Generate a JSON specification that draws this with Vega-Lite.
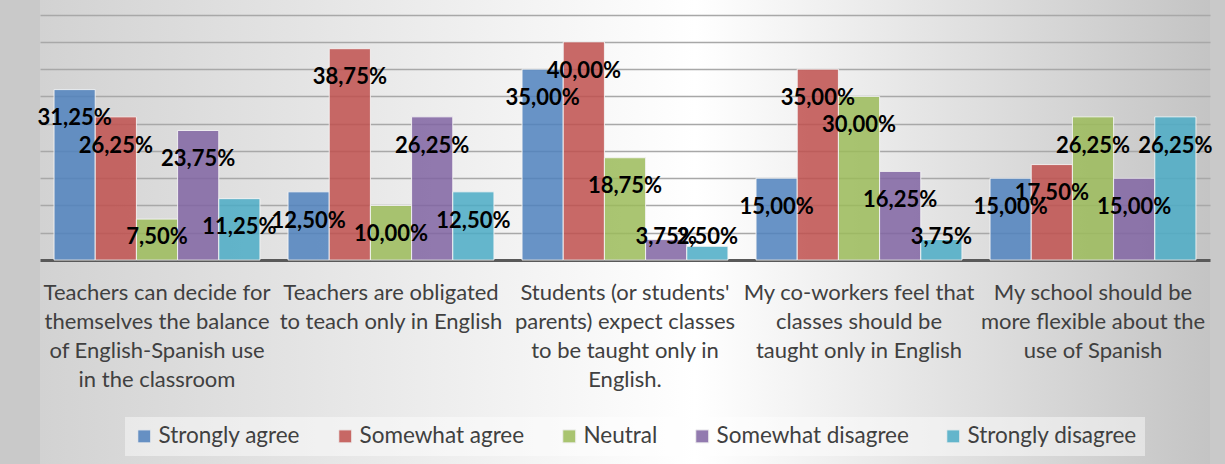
{
  "$schema": "https://vega.github.io/schema/vega-lite/v6.json",
  "width": 1170,
  "height": 464,
  "autosize": {"type": "none"},
  "padding": {"left": 40, "right": 15, "top": 0, "bottom": 0},
  "background": "#c9c9c9",
  "config": {
    "locale": {"number": {"decimal": ",", "thousands": ".", "grouping": [3], "currency": ["", " €"]}},
    "view": {
      "stroke": null,
      "fill": {
        "gradient": "linear", "x1": 0, "y1": 0, "x2": 1, "y2": 0,
        "stops": [
          {"offset": 0, "color": "#d2d2d2"},
          {"offset": 0.56, "color": "#ffffff"},
          {"offset": 1, "color": "#c4c4c4"}
        ]
      }
    },
    "font": "Lato"
  },
  "data": {
    "values": [
      {"statement": "Teachers can decide for\nthemselves the balance\nof English-Spanish use\nin the classroom", "response": "Strongly agree", "value": 0.3125},
      {"statement": "Teachers can decide for\nthemselves the balance\nof English-Spanish use\nin the classroom", "response": "Somewhat agree", "value": 0.2625},
      {"statement": "Teachers can decide for\nthemselves the balance\nof English-Spanish use\nin the classroom", "response": "Neutral", "value": 0.075},
      {"statement": "Teachers can decide for\nthemselves the balance\nof English-Spanish use\nin the classroom", "response": "Somewhat disagree", "value": 0.2375},
      {"statement": "Teachers can decide for\nthemselves the balance\nof English-Spanish use\nin the classroom", "response": "Strongly disagree", "value": 0.1125},
      {"statement": "Teachers are obligated\nto teach only in English", "response": "Strongly agree", "value": 0.125},
      {"statement": "Teachers are obligated\nto teach only in English", "response": "Somewhat agree", "value": 0.3875},
      {"statement": "Teachers are obligated\nto teach only in English", "response": "Neutral", "value": 0.10},
      {"statement": "Teachers are obligated\nto teach only in English", "response": "Somewhat disagree", "value": 0.2625},
      {"statement": "Teachers are obligated\nto teach only in English", "response": "Strongly disagree", "value": 0.125},
      {"statement": "Students (or students'\nparents) expect classes\nto be taught only in\nEnglish.", "response": "Strongly agree", "value": 0.35},
      {"statement": "Students (or students'\nparents) expect classes\nto be taught only in\nEnglish.", "response": "Somewhat agree", "value": 0.40},
      {"statement": "Students (or students'\nparents) expect classes\nto be taught only in\nEnglish.", "response": "Neutral", "value": 0.1875},
      {"statement": "Students (or students'\nparents) expect classes\nto be taught only in\nEnglish.", "response": "Somewhat disagree", "value": 0.0375},
      {"statement": "Students (or students'\nparents) expect classes\nto be taught only in\nEnglish.", "response": "Strongly disagree", "value": 0.025},
      {"statement": "My co-workers feel that\nclasses should be\ntaught only in English", "response": "Strongly agree", "value": 0.15},
      {"statement": "My co-workers feel that\nclasses should be\ntaught only in English", "response": "Somewhat agree", "value": 0.35},
      {"statement": "My co-workers feel that\nclasses should be\ntaught only in English", "response": "Neutral", "value": 0.30},
      {"statement": "My co-workers feel that\nclasses should be\ntaught only in English", "response": "Somewhat disagree", "value": 0.1625},
      {"statement": "My co-workers feel that\nclasses should be\ntaught only in English", "response": "Strongly disagree", "value": 0.0375},
      {"statement": "My school should be\nmore flexible about the\nuse of Spanish", "response": "Strongly agree", "value": 0.15},
      {"statement": "My school should be\nmore flexible about the\nuse of Spanish", "response": "Somewhat agree", "value": 0.175},
      {"statement": "My school should be\nmore flexible about the\nuse of Spanish", "response": "Neutral", "value": 0.2625},
      {"statement": "My school should be\nmore flexible about the\nuse of Spanish", "response": "Somewhat disagree", "value": 0.15},
      {"statement": "My school should be\nmore flexible about the\nuse of Spanish", "response": "Strongly disagree", "value": 0.2625}
    ]
  },
  "encoding": {
    "x": {
      "field": "statement", "type": "nominal", "sort": null,
      "scale": {"paddingInner": 0.12, "paddingOuter": 0.06},
      "axis": {
        "title": null, "orient": "bottom", "offset": -204,
        "labelAngle": 0, "labelExpr": "split(datum.label, '\\n')",
        "labelFont": "Lato", "labelFontSize": 22, "labelColor": "#404040",
        "labelLineHeight": 29.3, "labelBaseline": "top", "labelPadding": 22,
        "labelLimit": 400, "labelOverlap": false, "labelBound": false,
        "ticks": false, "tickSize": 0,
        "domain": true, "domainColor": "#595959", "domainWidth": 3,
        "grid": false
      }
    },
    "xOffset": {
      "field": "response", "type": "nominal",
      "sort": ["Strongly agree", "Somewhat agree", "Neutral", "Somewhat disagree", "Strongly disagree"]
    }
  },
  "layer": [
    {
      "mark": {"type": "bar", "fillOpacity": 0.85, "stroke": "#f4f4f4", "strokeWidth": 1, "strokeOpacity": 0.9},
      "encoding": {
        "y": {
          "field": "value", "type": "quantitative",
          "scale": {"domain": [-0.3741, 0.4768], "nice": false, "zero": false},
          "axis": {
            "title": null, "labels": false, "ticks": false, "domain": false,
            "grid": true, "values": [0.05, 0.1, 0.15, 0.2, 0.25, 0.3, 0.35, 0.4, 0.45],
            "gridColor": "#a8a8a8", "gridWidth": 1.3
          }
        },
        "y2": {"datum": 0},
        "color": {
          "field": "response", "type": "nominal",
          "scale": {
            "domain": ["Strongly agree", "Somewhat agree", "Neutral", "Somewhat disagree", "Strongly disagree"],
            "range": ["#4F81BD", "#C0504D", "#9BBB59", "#8064A2", "#4BACC6"]
          },
          "legend": {
            "title": null, "orient": "none", "legendX": 85, "legendY": 417,
            "direction": "horizontal", "symbolType": "square", "symbolSize": 169,
            "symbolOpacity": 0.85, "symbolStrokeColor": "#eeeeee", "symbolStrokeWidth": 1,
            "labelFont": "Lato", "labelFontSize": 22.5, "labelColor": "#404040",
            "labelOffset": 3, "columnPadding": 33, "padding": 8, "labelLimit": 400,
            "fillColor": "rgba(255,255,255,0.45)"
          }
        }
      }
    },
    {
      "transform": [{"calculate": "max(datum.value - 0.0527, 0.042)", "as": "labelPos"}],
      "mark": {"type": "text", "font": "Lato", "fontSize": 22, "fontWeight": "bold", "color": "#000000", "baseline": "middle", "align": "center"},
      "encoding": {
        "y": {"field": "labelPos", "type": "quantitative"},
        "text": {"field": "value", "type": "quantitative", "format": ".2%"}
      }
    }
  ]
}
